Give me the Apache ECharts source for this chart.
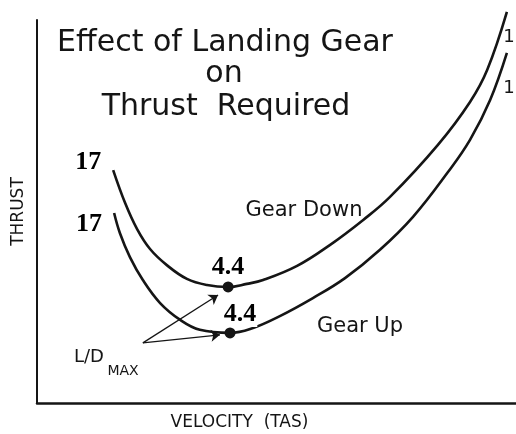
<!DOCTYPE html>
<html>
<head>
<meta charset="utf-8">
<script src="https://cdn.jsdelivr.net/npm/echarts@6/dist/echarts.min.js"></script>
<style>
  html, body { margin: 0; padding: 0; background: #fff; }
  #chart { width: 516px; height: 434px; }
</style>
</head>
<body>
<div id="chart"></div>
<script>
// Thrust required vs. true airspeed, relative units (0-100 on both axes)
const velocityGearDown = [15.9, 18.4, 20.9, 23.6, 27.1, 31.3, 35.5, 39.9, 43.8, 47.2, 54.3, 61.2, 68.1, 73.7, 83.7, 90.4, 94.0, 98.1];
const thrustGearDown   = [60.8, 52.2, 45.4, 40.2, 36.0, 32.4, 30.8, 30.3, 31.1, 32.1, 35.8, 41.3, 47.8, 53.8, 67.4, 78.6, 87.0, 102.1];
const velocityGearUp   = [16.1, 17.3, 19.4, 22.1, 25.7, 29.9, 34.0, 40.3, 44.5, 50.7, 57.6, 64.3, 71.6, 78.5, 85.8, 90.4, 94.6, 98.1];
const thrustGearUp     = [49.6, 44.4, 38.1, 32.1, 26.1, 21.7, 19.1, 18.3, 19.3, 22.7, 27.4, 32.6, 40.0, 48.6, 60.3, 68.7, 79.1, 91.4];

// Point of L/D max on each curve (index into the arrays above)
const ldMaxIndexDown = 7;
const ldMaxIndexUp = 7;

// Annotation texts
const startLabels = ['17', '17'];
const ldMaxLabels = ['4.4', '4.4'];
const rightEdgeLabels = ['1', '1'];

// L/D max pointer arrows: common tail, one head per curve
const ldMaxArrowTail = [22.1, 15.7];
const ldMaxArrowHeads = [[37.8, 28.2], [38.2, 17.8]];

const ink = '#151515';
const sans = 'DejaVu Sans';
const serif = 'Liberation Serif';

const zip = (xs, ys) => xs.map((x, i) => [x, ys[i]]);
const downData = zip(velocityGearDown, thrustGearDown);
const upData = zip(velocityGearUp, thrustGearUp);

const numberLabel = {
  show: true,
  position: 'inside',
  fontFamily: serif,
  fontWeight: 'bold',
  fontSize: 26,
  color: '#000',
  opacity: 1,
  textBorderWidth: 0
};

function startMark(point, text, offset) {
  return {
    symbol: 'circle',
    symbolSize: 0,
    silent: true,
    data: [{ coord: point, value: text, label: Object.assign({}, numberLabel, { offset: offset }) }]
  };
}

function centeredText(x, y, text, size) {
  return {
    type: 'text', x: x, y: y, silent: true,
    style: { text: text, font: size + 'px "' + sans + '"', fill: ink, align: 'center', verticalAlign: 'middle' }
  };
}

const chart = echarts.init(document.getElementById('chart'), null, { renderer: 'canvas' });

chart.setOption({
  animation: false,
  backgroundColor: '#fff',
  grid: { left: 37, right: 0, top: 20, bottom: 31, containLabel: false, outerBoundsMode: 'none' },
  xAxis: {
    type: 'value',
    min: 0,
    max: 100,
    axisLine: { show: true, lineStyle: { color: ink, width: 2.5 } },
    axisTick: { show: false },
    axisLabel: { show: false },
    splitLine: { show: false },
    name: 'VELOCITY  (TAS)',
    nameLocation: 'middle',
    nameGap: 11,
    nameTextStyle: { fontFamily: sans, fontSize: 17, color: ink, padding: [0, 74, 0, 0] }
  },
  yAxis: {
    type: 'value',
    min: 0,
    max: 100,
    axisLine: { show: true, lineStyle: { color: ink, width: 2 } },
    axisTick: { show: false },
    axisLabel: { show: false },
    splitLine: { show: false },
    name: 'THRUST',
    nameLocation: 'middle',
    nameRotate: 90,
    nameGap: 10,
    nameTextStyle: { fontFamily: sans, fontSize: 17, color: ink }
  },
  series: [
    {
      name: 'Gear Down',
      type: 'line',
      data: downData,
      smooth: 0.4,
      symbol: 'none',
      clip: false,
      lineStyle: { color: ink, width: 2.6 },
      markPoint: startMark(downData[0], startLabels[0], [-25, -8])
    },
    {
      name: 'Gear Up',
      type: 'line',
      data: upData,
      smooth: 0.4,
      symbol: 'none',
      clip: false,
      lineStyle: { color: ink, width: 2.6 },
      markPoint: startMark(upData[0], startLabels[1], [-25, 11])
    },
    {
      name: 'L/D max',
      type: 'scatter',
      symbolSize: 11,
      itemStyle: { color: ink, opacity: 1 },
      z: 5,
      data: [
        {
          value: downData[ldMaxIndexDown],
          label: Object.assign({}, numberLabel, { formatter: ldMaxLabels[0], offset: [0, -20] })
        },
        {
          value: upData[ldMaxIndexUp],
          label: Object.assign({}, numberLabel, {
            formatter: ldMaxLabels[1], offset: [10, -19],
            backgroundColor: '#fff', padding: [0, 1, 0, 1]
          })
        }
      ],
      markLine: {
        silent: true,
        symbol: ['none', 'arrow'],
        symbolSize: 9,
        label: { show: false },
        lineStyle: { color: ink, width: 1.3, type: 'solid', opacity: 1 },
        data: ldMaxArrowHeads.map(h => [{ coord: ldMaxArrowTail }, { coord: h }])
      }
    }
  ],
  graphic: [
    centeredText(225, 43, 'Effect of Landing Gear', 30),
    centeredText(224, 74, 'on', 30),
    centeredText(226, 107, 'Thrust  Required', 30),
    centeredText(304, 211, 'Gear Down', 21),
    centeredText(360, 327, 'Gear Up', 21),
    centeredText(89, 357, 'L/D', 18),
    centeredText(123, 371, 'MAX', 14),
    centeredText(509, 37, rightEdgeLabels[0], 18),
    centeredText(509, 88, rightEdgeLabels[1], 18)
  ]
});
</script>
</body>
</html>
